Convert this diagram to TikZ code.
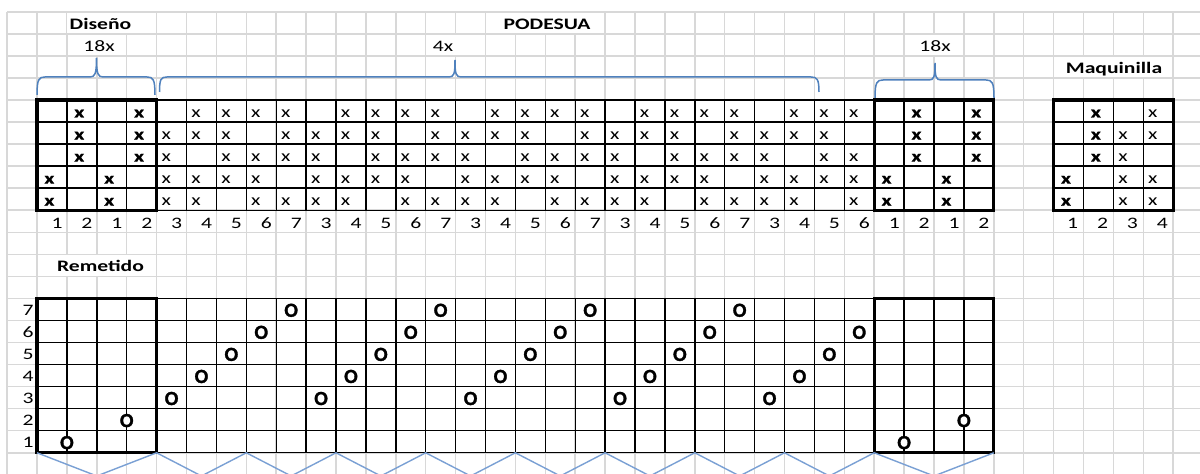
\documentclass[tikz,border=0pt]{standalone}
\usepackage{fontspec}
\setmainfont{Carlito}[FakeStretch=1.35]
\newfontfamily\ofont{Carlito}[BoldFeatures={FakeBold=1.6}]
\newfontfamily\xbfont{Carlito}[FakeStretch=1.35,BoldFeatures={FakeBold=0.8}]
\newcommand\LblFont{\fontsize{8}{9.6}\selectfont}
\newcommand\XbFont{\xbfont\bfseries\fontsize{8}{9.6}\selectfont}
\newcommand\OFont{\ofont\bfseries\fontsize{10}{11}\selectfont}
\definecolor{gridgray}{RGB}{216,216,216}
\definecolor{bracebl}{RGB}{79,129,189}
\definecolor{zigbl}{RGB}{122,160,212}
\begin{document}
\begin{tikzpicture}[x=0.5pt,y=-0.5pt,
  declare function={vx(\k)=7.1+29.9*\k; hy(\k)=11.8+22.05*\k;},
  gridline/.style={draw=gridgray,line width=0.75pt},
  thinblk/.style={draw=black,line width=0.7pt},
  thickblk/.style={draw=black,line width=1.55pt},
  hdr/.style={font=\LblFont\bfseries,fill=white,inner xsep=1.5pt,inner ysep=0pt,text height=8.4pt,text depth=1.9pt,anchor=center},
  rep/.style={font=\LblFont,fill=white,inner xsep=1.5pt,inner ysep=0pt,text height=8.4pt,text depth=1.9pt,anchor=center},
  xreg/.style={font=\LblFont,anchor=base west,inner sep=0pt},
  xbold/.style={font=\XbFont,anchor=base west,inner sep=0pt},
  omark/.style={font=\OFont,fill=white,inner sep=0pt,text depth=0pt,anchor=center},
  numlbl/.style={font=\LblFont,anchor=base east,inner sep=0pt},
  bracepath/.style={draw=bracebl,line width=0.75pt},
  zigpath/.style={draw=zigbl,line width=0.7pt}]
\useasboundingbox (0,0) rectangle (1200,474);
\clip (0,0) rectangle (1200,474);
\fill[white] (0,0) rectangle (1200,474);

% spreadsheet grid
\foreach \k in {0,...,39} \draw[gridline] ({vx(\k)},{hy(0)}) -- ({vx(\k)},474);
\foreach \k in {0,...,20} \draw[gridline] ({vx(0)},{hy(\k)}) -- (1200,{hy(\k)});

% headings
\node[hdr] (diseno) at (100.5,{hy(0)+11.025}) {Diseño};
\node[rep] (rep1) at (99,{hy(1)+11.025}) {18x};
\node[hdr] (podesua) at (547,{hy(0)+11.025}) {PODESUA};
\node[rep] (rep2) at (443,{hy(1)+11.025}) {4x};
\node[rep] (rep3) at (935,{hy(1)+11.025}) {18x};
\node[hdr] (maq) at (1114,{hy(2)+11.025}) {Maquinilla};
\node[hdr] (remetido) at (100.5,{hy(11)+11.025}) {Remetido};

% black grids
\foreach \k in {4,...,9} \draw[thinblk] ({vx(1)},{hy(\k)}) -- ({vx(33)},{hy(\k)});
\foreach \k in {1,...,33} \draw[thinblk] ({vx(\k)},{hy(4)}) -- ({vx(\k)},{hy(9)});
\foreach \k in {4,...,9} \draw[thinblk] ({vx(35)},{hy(\k)}) -- ({vx(39)},{hy(\k)});
\foreach \k in {35,...,39} \draw[thinblk] ({vx(\k)},{hy(4)}) -- ({vx(\k)},{hy(9)});
\foreach \k in {13,...,20} \draw[thinblk] ({vx(1)},{hy(\k)}) -- ({vx(33)},{hy(\k)});
\foreach \k in {1,...,33} \draw[thinblk] ({vx(\k)},{hy(13)}) -- ({vx(\k)},{hy(20)});
\draw[thickblk] ({vx(1)},{hy(4)}) rectangle ({vx(5)},{hy(9)});
\draw[thickblk] ({vx(29)},{hy(4)}) rectangle ({vx(33)},{hy(9)});
\draw[thickblk] ({vx(35)},{hy(4)}) rectangle ({vx(39)},{hy(9)});
\draw[thickblk] ({vx(1)},{hy(13)}) rectangle ({vx(5)},{hy(20)});
\draw[thickblk] ({vx(29)},{hy(13)}) rectangle ({vx(33)},{hy(20)});

% x marks: Diseno and first Maquinilla shafts (bold)
\foreach \c in {0,2,28,30,34} \foreach \r in {3,4}
  \node[xbold] (xm-\c-\r) at ({vx(\c+1)+7},{hy(4+\r)+17.5}) {x};
\foreach \c in {1,3,29,31,35} \foreach \r in {0,1,2}
  \node[xbold] (xm-\c-\r) at ({vx(\c+1)+7},{hy(4+\r)+17.5}) {x};
% PODESUA
\foreach \c in {4,...,27} {
  \pgfmathtruncatemacro\Emp{mod(2*mod(\c-4,5),5)}
  \foreach \r in {0,...,4} {
    \ifnum\r=\Emp\relax\else
      \node[xreg] (xm-\c-\r) at ({vx(\c+1)+4.5},{hy(4+\r)+17.5}) {x};
    \fi
  }
}
% Maquinilla shafts 3 and 4
\foreach \c/\Emq in {36/0,37/2} {
  \foreach \r in {0,...,4} {
    \ifnum\r=\Emq\relax\else
      \node[xreg] (xm-\c-\r) at ({vx(\c+1)+4.5},{hy(4+\r)+17.5}) {x};
    \fi
  }
}

% column numbers
\foreach \c in {0,...,31} {
  \pgfmathtruncatemacro\NumLab{ifthenelse(\c<4,mod(\c,2)+1,ifthenelse(\c>27,mod(\c,2)+1,3+mod(\c-4,5)))}
  \node[numlbl] (num-\c) at ({vx(\c+2)-4},{hy(9)+18.3}) {\NumLab};
}
\foreach \c/\n in {34/1,35/2,36/3,37/4}
  \node[numlbl] (num-\c) at ({vx(\c+2)-5},{hy(9)+18.3}) {\n};

% row numbers of Remetido
\foreach \L in {1,...,7}
  \node[numlbl] (row-\L) at ({vx(1)-3},{hy(20-\L)+17.2}) {\L};

% O marks
\foreach \c in {4,...,27} {
  \pgfmathtruncatemacro\Sh{3+mod(\c-4,5)}
  \node[omark] (o-\c) at ({vx(\c+1)+14.95},{hy(20-\Sh)+11.8}) {O};
}
\node[omark] (o-0) at ({vx(2)},{hy(19)+11.8}) {O};
\node[omark] (o-2) at ({vx(4)},{hy(18)+11.8}) {O};
\node[omark] (o-28) at ({vx(30)},{hy(19)+11.8}) {O};
\node[omark] (o-30) at ({vx(32)},{hy(18)+11.8}) {O};

% braces
\draw[bracepath] (37,95) .. controls (37,79) and (39,77) .. (45,77) -- (90,77)
  .. controls (95,77) and (96.5,74) .. (96.5,58)
  .. controls (96.5,74) and (98,77) .. (103,77) -- (147,77)
  .. controls (153,77) and (155,79) .. (155,95);
\draw[bracepath] (159.5,92) .. controls (159.5,79) and (161,77) .. (167,77) -- (449,77)
  .. controls (454,77) and (455,74) .. (455,60)
  .. controls (455,74) and (456,77) .. (461,77) -- (811,77)
  .. controls (817,77) and (819,79) .. (819,92);
\draw[bracepath] (875,98) .. controls (875,82) and (877,80) .. (883,80) -- (929,80)
  .. controls (934,80) and (935,77) .. (935,63)
  .. controls (935,77) and (936,80) .. (941,80) -- (986,80)
  .. controls (992,80) and (994,82) .. (994,98);

% zigzag under Remetido
\draw[zigpath] ({vx(1)},{hy(20)}) -- ({vx(3)},476) -- ({vx(5)},{hy(20)})
  -- ({vx(6.5)},476) -- ({vx(8)},{hy(20)})
  -- ({vx(9.5)},476) -- ({vx(11)},{hy(20)})
  -- ({vx(12.5)},476) -- ({vx(14)},{hy(20)})
  -- ({vx(15.5)},476) -- ({vx(17)},{hy(20)})
  -- ({vx(18.5)},476) -- ({vx(20)},{hy(20)})
  -- ({vx(21.5)},476) -- ({vx(23)},{hy(20)})
  -- ({vx(24.5)},476) -- ({vx(26)},{hy(20)})
  -- ({vx(27.5)},476) -- ({vx(29)},{hy(20)})
  -- ({vx(31)},476) -- ({vx(33)},{hy(20)});
\end{tikzpicture}
\end{document}
